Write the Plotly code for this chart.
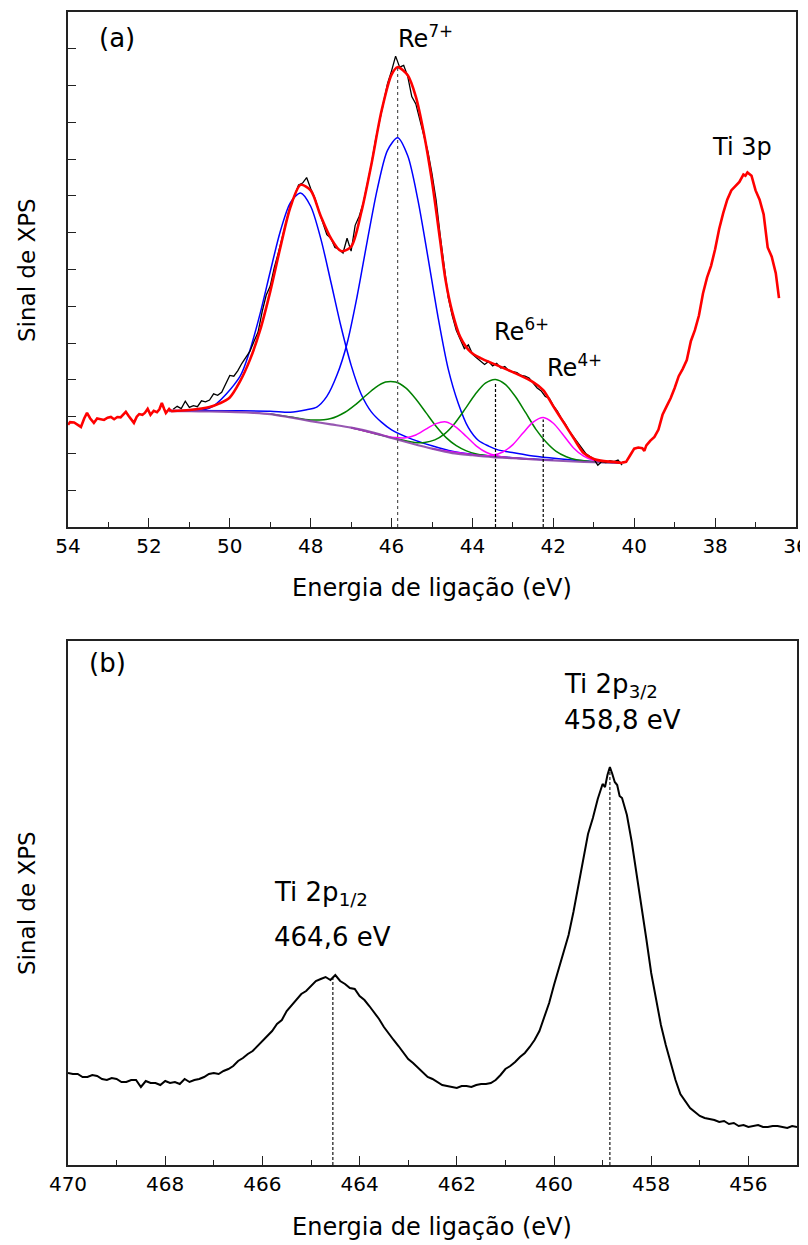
import plotly.graph_objects as go

# ---------------- Panel (a): Re 4f / Ti 3p ----------------
# red envelope, noisy left part (raw data region)
E_red_left = [54.0, 53.95, 53.85, 53.75, 53.68, 53.6, 53.53, 53.45, 53.36, 53.28, 53.2, 53.11, 53.02,
              52.94, 52.86, 52.78, 52.7, 52.62, 52.57, 52.5, 52.44, 52.37, 52.3, 52.24, 52.16, 52.1,
              52.03, 51.96, 51.88, 51.8, 51.74, 51.68, 51.62, 51.58, 51.5, 51.45]
S_red_left = [2.78, 2.85, 2.84, 2.78, 2.72, 2.95, 3.10, 2.95, 2.83, 2.95, 2.93, 2.91, 2.97,
              2.99, 2.93, 2.99, 2.98, 3.06, 3.13, 3.02, 2.92, 2.83, 3.00, 3.07, 3.05, 3.10,
              3.21, 3.05, 3.16, 3.12, 3.20, 3.37, 3.20, 3.10, 3.21, 3.15]

# red fitted envelope
E_fit = [51.45, 51.0, 50.5, 50.25, 50.0, 49.75, 49.5, 49.25, 49.0, 48.75, 48.5, 48.25, 48.0,
         47.75, 47.5, 47.25, 47.0, 46.75, 46.5, 46.25, 46.0, 45.85, 45.6, 45.4, 45.2, 45.0, 44.8,
         44.67, 44.5, 44.3, 44.05, 43.8, 43.4, 43.0, 42.5, 42.25, 42.0, 41.75, 41.5, 41.25, 41.0,
         40.75, 40.5, 40.3]
S_fit = [3.15, 3.18, 3.26, 3.36, 3.52, 3.95, 4.55, 5.35, 6.40, 7.60, 8.70, 9.30, 9.15,
         8.45, 7.85, 7.50, 7.62, 8.55, 9.85, 11.30, 12.30, 12.50, 12.28, 11.70, 10.70, 9.40, 7.80,
         6.75, 5.85, 5.16, 4.76, 4.59, 4.40, 4.21, 3.94, 3.72, 3.28, 2.85, 2.42, 2.01, 1.85,
         1.79, 1.77, 1.74]

# red Ti 3p data
E_ti3p = [40.3, 40.2, 40.1, 40.0, 39.9, 39.8, 39.75, 39.7, 39.6, 39.5, 39.4, 39.3, 39.2, 39.1, 39.0,
          38.9, 38.8, 38.7, 38.6, 38.5, 38.4, 38.3, 38.2, 38.1, 38.0, 37.9, 37.8, 37.7, 37.6, 37.5,
          37.4, 37.3, 37.25, 37.2, 37.1, 37.0, 36.9, 36.8, 36.7, 36.6, 36.5, 36.42]
S_ti3p = [1.75, 1.77, 1.95, 2.13, 2.16, 2.14, 2.07, 2.22, 2.35, 2.45, 2.65, 3.05, 3.28, 3.50, 3.78,
          4.10, 4.30, 4.54, 5.05, 5.35, 5.75, 6.35, 6.78, 7.10, 7.55, 8.10, 8.53, 8.90, 9.15, 9.28,
          9.38, 9.58, 9.55, 9.64, 9.55, 9.15, 8.90, 8.50, 7.60, 7.35, 6.90, 6.22]

# black raw data (Re 4f)
E_raw = [51.4, 51.3, 51.2, 51.1, 51.0, 50.9, 50.8, 50.7, 50.6, 50.5, 50.4, 50.3, 50.2, 50.1, 50.0,
         49.9, 49.8, 49.7, 49.6, 49.5, 49.4, 49.3, 49.2, 49.1, 49.0, 48.9, 48.8, 48.7, 48.6, 48.5,
         48.4, 48.3, 48.2, 48.1, 48.0, 47.9, 47.8, 47.7, 47.6, 47.5, 47.4, 47.3, 47.2, 47.1, 47.0,
         46.9, 46.8, 46.7, 46.6, 46.5, 46.4, 46.3, 46.2, 46.1, 46.0, 45.9, 45.8, 45.7, 45.6, 45.5,
         45.4, 45.3, 45.2, 45.1, 45.0, 44.9, 44.8, 44.7, 44.6, 44.5, 44.4, 44.3, 44.2, 44.1, 44.0,
         43.9, 43.8, 43.7, 43.6, 43.5, 43.4, 43.3, 43.2, 43.1, 43.0, 42.9, 42.8, 42.7, 42.6, 42.5,
         42.4, 42.3, 42.2, 42.1, 42.0, 41.9, 41.8, 41.7, 41.6, 41.5, 41.4, 41.3, 41.2, 41.1, 41.0,
         40.9, 40.8, 40.7, 40.6, 40.5, 40.4, 40.3]
S_raw = [3.20, 3.28, 3.22, 3.42, 3.25, 3.30, 3.27, 3.43, 3.40, 3.45, 3.62, 3.58, 3.66, 3.90, 4.12,
         4.10, 4.25, 4.45, 4.60, 4.78, 5.05, 5.30, 5.85, 6.30, 6.55, 7.05, 7.45, 7.90, 8.30, 8.75,
         9.00, 9.30, 9.35, 9.50, 9.20, 8.95, 8.60, 8.30, 7.95, 7.85, 7.60, 7.55, 7.45, 7.85, 7.50,
         8.20, 8.45, 8.80, 9.30, 9.85, 10.50, 11.05, 11.60, 12.05, 12.40, 12.80, 12.50, 12.55, 12.25, 11.70,
         11.50, 11.05, 10.60, 10.20, 9.60, 8.90, 7.95, 7.15, 6.25, 5.75, 5.35, 5.10, 4.85, 4.95, 4.70,
         4.60, 4.50, 4.42, 4.50, 4.38, 4.45, 4.32, 4.36, 4.25, 4.22, 4.20, 4.12, 4.10, 4.05, 3.92,
         3.78, 3.70, 3.55, 3.50, 3.30, 3.15, 2.95, 2.80, 2.60, 2.45, 2.30, 2.15, 2.00, 1.92, 1.85,
         1.68, 1.78, 1.75, 1.80, 1.78, 1.82, 1.68]

# Shirley-type background
E_bg = [51.5, 51.0, 50.5, 50.0, 49.5, 49.0, 48.5, 48.0, 47.5, 47.0, 46.5, 46.0, 45.5, 45.0, 44.5,
        44.0, 43.5, 43.0, 42.5, 42.0, 41.5, 41.0, 40.5, 40.3]
S_bg = [3.15, 3.15, 3.14, 3.13, 3.11, 3.07, 2.98, 2.88, 2.79, 2.70, 2.58, 2.42, 2.27, 2.13, 2.01,
        1.95, 1.90, 1.87, 1.84, 1.81, 1.78, 1.76, 1.75, 1.74]

# Re7+ 4f5/2 component (blue)
E_b1 = [51.5, 50.5, 49.75, 49.5, 49.25, 49.0, 48.75, 48.5, 48.25, 48.0, 47.75, 47.5, 47.25, 47.0,
        46.75, 46.5, 46.25, 46.0, 45.5, 45.0, 44.5, 44.0, 43.0, 42.0]
S_b1 = [3.17, 3.23, 4.09, 4.81, 5.80, 6.94, 8.04, 8.82, 9.08, 8.72, 7.84, 6.66, 5.45, 4.40,
        3.61, 3.13, 2.85, 2.64, 2.39, 2.21, 2.06, 1.98, 1.885, 1.82]

# Re7+ 4f7/2 component (blue)
E_b2 = [51.5, 50.0, 49.0, 48.5, 48.1, 47.85, 47.6, 47.35, 47.1, 46.85, 46.6, 46.35, 46.1, 45.85,
        45.6, 45.35, 45.1, 44.85, 44.6, 44.35, 44.1, 43.85, 43.6, 43.35, 43.1, 42.6, 42.1, 41.6,
        41.1, 40.3]
S_b2 = [3.17, 3.16, 3.15, 3.12, 3.19, 3.26, 3.55, 4.13, 4.99, 6.28, 7.78, 9.20, 10.24, 10.58,
        10.09, 8.90, 7.33, 5.70, 4.30, 3.36, 2.70, 2.35, 2.20, 2.09, 2.04, 1.945, 1.88, 1.83,
        1.79, 1.75]

# Re6+ components (green)
E_g1 = [49.0, 48.5, 48.0, 47.5, 47.15, 46.9, 46.65, 46.4, 46.15, 45.9, 45.65, 45.4, 45.15, 44.9,
        44.65, 44.4, 44.15, 43.9, 43.4, 42.5]
S_g1 = [3.07, 2.99, 2.91, 2.95, 3.12, 3.32, 3.56, 3.79, 3.94, 3.94, 3.78, 3.48, 3.11, 2.74,
        2.43, 2.21, 2.07, 1.985, 1.91, 1.84]
E_g2 = [47.0, 46.0, 45.43, 45.18, 44.93, 44.68, 44.43, 44.18, 43.93, 43.68, 43.43, 43.18, 42.93,
        42.68, 42.43, 42.18, 41.93, 41.68, 41.43, 40.93, 40.3]
S_g2 = [2.70, 2.43, 2.30, 2.30, 2.37, 2.54, 2.83, 3.21, 3.61, 3.91, 4.01, 3.87, 3.535,
        3.10, 2.655, 2.31, 2.055, 1.91, 1.83, 1.77, 1.74]

# Re4+ components (magenta)
E_m1 = [47.0, 46.15, 45.9, 45.65, 45.4, 45.15, 44.9, 44.65, 44.4, 44.15, 43.9, 43.65, 43.4, 43.15, 42.5]
S_m1 = [2.70, 2.48, 2.43, 2.425, 2.50, 2.66, 2.81, 2.855, 2.71, 2.46, 2.20, 2.025, 1.936, 1.89, 1.84]
E_m2 = [45.0, 43.75, 43.5, 43.25, 43.0, 42.75, 42.5, 42.25, 42.0, 41.75, 41.5, 41.25, 41.0, 40.75, 40.3]
S_m2 = [2.13, 1.94, 1.95, 2.04, 2.24, 2.555, 2.85, 2.975, 2.82, 2.495, 2.15, 1.925, 1.81, 1.77, 1.74]

# reference lines (peak positions) and labels
vline_a_x = [45.85, 43.43, 42.25]
vline_a_top = [12.5, 3.9, 2.92]
labels_a = ["Re<sup>7+</sup>", "Re<sup>6+</sup>", "Re<sup>4+</sup>", "Ti 3p"]
labels_a_x = [45.89, 43.52, 42.20, 38.12]
labels_a_y = [13.32, 5.35, 4.38, 10.33]

# ---------------- Panel (b): Ti 2p ----------------
E_ti2p = [470.0, 469.9, 469.8, 469.7, 469.6, 469.5, 469.4, 469.3, 469.2, 469.1, 469.0, 468.9, 468.8,
          468.7, 468.6, 468.5, 468.4, 468.3, 468.2, 468.1, 468.0, 467.9, 467.8, 467.7, 467.6, 467.5,
          467.4, 467.3, 467.2, 467.1, 467.0, 466.9, 466.8, 466.7, 466.6, 466.5, 466.4, 466.3, 466.2,
          466.1, 466.0, 465.9, 465.8, 465.7, 465.6, 465.5, 465.4, 465.3, 465.2, 465.1, 465.0, 464.9,
          464.8, 464.7, 464.6, 464.5, 464.4, 464.3, 464.2, 464.1, 464.0, 463.9, 463.8, 463.7, 463.6,
          463.5, 463.4, 463.3, 463.2, 463.1, 463.0, 462.9, 462.8, 462.7, 462.6, 462.5, 462.4, 462.3,
          462.2, 462.1, 462.0, 461.9, 461.8, 461.7, 461.6, 461.5, 461.4, 461.3, 461.2, 461.1, 461.0,
          460.9, 460.8, 460.7, 460.6, 460.5, 460.4, 460.3, 460.2, 460.1, 460.0, 459.9, 459.8, 459.7,
          459.6, 459.5, 459.4, 459.3, 459.2, 459.1, 459.0, 458.95, 458.9, 458.85, 458.8, 458.75,
          458.7, 458.65, 458.6, 458.5, 458.4, 458.3, 458.2, 458.1, 458.0, 457.9, 457.8, 457.7, 457.6,
          457.5, 457.4, 457.3, 457.2, 457.1, 457.0, 456.9, 456.8, 456.7, 456.6, 456.5, 456.4, 456.3,
          456.2, 456.1, 456.0, 455.9, 455.8, 455.7, 455.6, 455.5, 455.4, 455.3, 455.2, 455.1, 455.0]
S_ti2p = [9.2, 9.1, 9.1, 8.8, 8.8, 9.0, 8.9, 8.6, 8.5, 8.7, 8.6, 8.3, 8.3,
          8.5, 8.5, 7.8, 8.4, 8.2, 8.2, 8.0, 8.4, 8.2, 8.3, 8.1, 8.6, 8.3,
          8.5, 8.6, 8.8, 9.1, 9.2, 9.1, 9.4, 9.6, 9.9, 10.4, 10.7, 11.1, 11.4,
          11.9, 12.4, 12.8, 13.4, 14.1, 14.5, 15.4, 16.0, 16.5, 17.1, 17.4, 17.9, 18.4,
          18.6, 18.8, 18.5, 19.0, 18.4, 18.1, 17.7, 17.6, 16.9, 16.5, 15.9, 15.3, 14.6,
          13.8, 13.1, 12.5, 11.9, 11.2, 10.6, 10.2, 9.7, 9.2, 8.8, 8.6, 8.3, 8.0,
          7.9, 7.8, 7.7, 7.9, 7.9, 7.8, 8.0, 8.1, 8.1, 8.2, 8.5, 9.0, 9.6,
          9.9, 10.3, 10.8, 11.2, 11.8, 12.5, 13.4, 14.7, 16.2, 18.0, 19.6, 21.2, 23.0,
          25.3, 28.0, 30.8, 33.1, 34.7, 36.6, 38.1, 37.8, 39.0, 39.8, 39.1, 38.3,
          38.0, 36.9, 36.7, 35.0, 32.3, 29.2, 25.9, 22.6, 19.2, 16.5, 14.0, 12.0, 10.1,
          8.5, 7.1, 6.4, 5.7, 5.3, 4.9, 4.7, 4.6, 4.5, 4.3, 4.4, 4.1, 4.2,
          3.9, 4.0, 3.8, 3.9, 4.0, 3.8, 3.8, 3.9, 3.9, 3.8, 3.7, 3.9, 3.8]

vline_b_x = [464.55, 458.85]
vline_b_top = [19.0, 39.8]
labels_b = ["Ti 2p<sub>1/2</sub>", "464,6 eV", "Ti 2p<sub>3/2</sub>", "458,8 eV"]
labels_b_x = [465.8, 465.8, 459.84, 459.84]
labels_b_y = [27.2, 22.8, 48.0, 44.5]

xticks_a = [54, 52, 50, 48, 46, 44, 42, 40, 38, 36]
xticks_b = [470, 468, 466, 464, 462, 460, 458, 456]

FONT = "DejaVu Sans"
W, H = 808, 1245
OFF = 8  # page offset of the figure inside the browser window


def px(xp):
    return (xp - OFF) / W


def py(yp):
    return 1 - (yp - OFF) / H


fig = go.Figure()


def add(x, y, color, width, shape="linear", xa="x", ya="y"):
    fig.add_trace(go.Scatter(x=x, y=y, mode="lines", xaxis=xa, yaxis=ya,
                             line=dict(color=color, width=width, shape=shape, smoothing=0.8),
                             showlegend=False, hoverinfo="skip"))


# components
add(E_b1, S_b1, "#0000ff", 1.5, "spline")
add(E_b2, S_b2, "#0000ff", 1.5, "spline")
add(E_g1, S_g1, "#008000", 1.5, "spline")
add(E_g2, S_g2, "#008000", 1.5, "spline")
add(E_m1, S_m1, "#ff00ff", 1.5, "spline")
add(E_m2, S_m2, "#ff00ff", 1.5, "spline")
add(E_bg, S_bg, "rgba(140,70,170,0.9)", 2.2, "spline")
# raw data and envelope
add(E_raw, S_raw, "#000000", 1.3)
add(E_red_left, S_red_left, "#ff0000", 2.6)
add(E_fit, S_fit, "#ff0000", 2.6, "spline")
add(E_ti3p, S_ti3p, "#ff0000", 2.6)

# panel b
add(E_ti2p, S_ti2p, "#000000", 2.0, "linear", "x2", "y2")

shapes = []
for i, (vx, vt) in enumerate(zip(vline_a_x, vline_a_top)):
    shapes.append(dict(type="line", xref="x", yref="y", x0=vx, x1=vx, y0=0, y1=vt,
                       line=dict(color="#555555" if i == 0 else "#000000", width=1.2,
                                 dash="dot" if i == 0 else "3px,2px")))
for vx, vt in zip(vline_b_x, vline_b_top):
    shapes.append(dict(type="line", xref="x2", yref="y2", x0=vx, x1=vx, y0=0, y1=vt,
                       line=dict(color="#000000", width=1.1, dash="3px,2px")))

ann = []
for t, x, y in zip(labels_a, labels_a_x, labels_a_y):
    ann.append(dict(text=t, x=x, y=y, xref="x", yref="y", xanchor="left", yanchor="middle",
                    showarrow=False, font=dict(family=FONT, size=24, color="black")))
for t, x, y in zip(labels_b, labels_b_x, labels_b_y):
    ann.append(dict(text=t, x=x, y=y, xref="x2", yref="y2", xanchor="left", yanchor="middle",
                    showarrow=False, font=dict(family=FONT, size=26, color="black")))
ann.append(dict(text="(a)", x=px(117), y=py(38), xref="paper", yref="paper",
                xanchor="center", yanchor="middle",
                showarrow=False, font=dict(family=FONT, size=26, color="black")))
ann.append(dict(text="(b)", x=px(107), y=py(663), xref="paper", yref="paper",
                xanchor="center", yanchor="middle",
                showarrow=False, font=dict(family=FONT, size=26, color="black")))
for yc in [270, 903]:
    ann.append(dict(text="Sinal de XPS", x=px(27), y=py(yc), xref="paper", yref="paper",
                    xanchor="center", yanchor="middle",
                    textangle=-90, showarrow=False, font=dict(family=FONT, size=23, color="black")))
for yc in [588, 1227]:
    ann.append(dict(text="Energia de ligação (eV)", x=px(432), y=py(yc), xref="paper",
                    yref="paper", xanchor="center", yanchor="middle",
                    showarrow=False, font=dict(family=FONT, size=24, color="black")))

axis_common = dict(showgrid=False, zeroline=False, showline=True, linecolor="#222222",
                   linewidth=1.5, mirror=True, automargin=False)

fig.update_layout(
    template="none",
    width=W, height=H, margin=dict(l=0, r=0, t=0, b=0, pad=0, autoexpand=False),
    paper_bgcolor="white", plot_bgcolor="white",
    xaxis=dict(domain=[px(68), px(796)], range=[54, 36], anchor="y",
               tickvals=xticks_a, ticks="inside", ticklen=9, tickwidth=1.3, tickcolor="#222222",
               minor=dict(dtick=1, tick0=0, ticks="inside", ticklen=5, tickwidth=1.2, tickcolor="#222222"),
               tickfont=dict(family=FONT, size=20, color="black"), **axis_common),
    yaxis=dict(domain=[py(527), py(12)], range=[0, 14], anchor="x",
               tickvals=list(range(1, 14)), ticks="inside", ticklen=8, tickwidth=1.3,
               tickcolor="#222222", showticklabels=False, **axis_common),
    xaxis2=dict(domain=[px(68), px(797)], range=[470, 455], anchor="y2",
                tickvals=xticks_b, ticks="inside", ticklen=9, tickwidth=1.3, tickcolor="#222222",
                minor=dict(dtick=1, tick0=0, ticks="inside", ticklen=5, tickwidth=1.2, tickcolor="#222222"),
                tickfont=dict(family=FONT, size=20, color="black"), **axis_common),
    yaxis2=dict(domain=[py(1165), py(641)], range=[0, 52.4], anchor="x2",
                ticks="", showticklabels=False, **axis_common),
    shapes=shapes, annotations=ann,
)

fig.write_html("out.html")
